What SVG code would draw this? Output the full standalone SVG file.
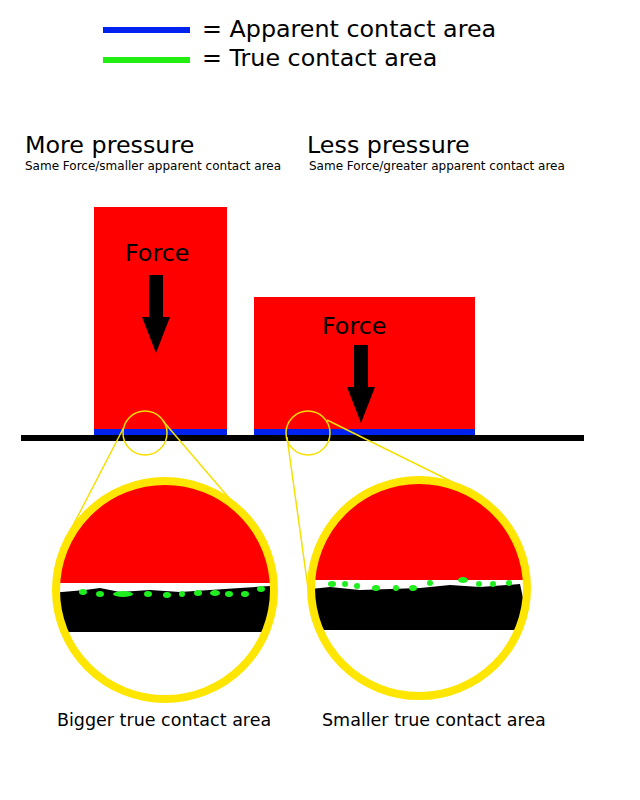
<svg xmlns="http://www.w3.org/2000/svg" width="640" height="800" viewBox="0 0 640 800">
<style>
text{font-family:Verdana,"DejaVu Sans",sans-serif;fill:#000}
.big{font-size:23.8px}.sm{font-size:12px}.lab{font-size:17.5px}
.zl{stroke:#f5e000;stroke-width:1.5;fill:none}
.ring{fill:none;stroke:#ffe600;stroke-width:8}
.g{fill:#1fef1f}
</style>
<defs>
<clipPath id="cl"><circle cx="165" cy="590" r="106"/></clipPath>
<clipPath id="cr"><circle cx="419" cy="588" r="106"/></clipPath>
</defs>
<g id="legend">
<line x1="103" y1="30" x2="190" y2="30" stroke="#0022ee" stroke-width="6"/>
<text x="202" y="37" class="big">= Apparent contact area</text>
<line x1="103" y1="60" x2="190" y2="60" stroke="#22ee11" stroke-width="6"/>
<text x="202" y="66" class="big">= True contact area</text>
</g>
<g id="titles">
<text x="25" y="153" class="big">More pressure</text>
<text x="25" y="170" class="sm">Same Force/smaller apparent contact area</text>
<text x="307" y="153" class="big">Less pressure</text>
<text x="309" y="170" class="sm">Same Force/greater apparent contact area</text>
</g>
<g id="block-left">
<rect x="94" y="207" width="133" height="224" fill="#ff0000"/>
<rect x="94" y="429" width="133" height="6" fill="#0022ee"/>
<text x="125" y="261" class="big">Force</text>
<polygon points="149,275 163,275 163,317 170,317 156,353 142,317 149,317" fill="#000"/>
</g>
<g id="block-right">
<rect x="254" y="297" width="221" height="134" fill="#ff0000"/>
<rect x="254" y="429" width="221" height="6" fill="#0022ee"/>
<text x="322" y="334" class="big">Force</text>
<polygon points="354,345 368,345 368,387 375,387 361,423 347,387 354,387" fill="#000"/>
</g>
<g id="ground"><rect x="21" y="435" width="563" height="6" fill="#000"/></g>
<g id="connectors">
<circle cx="145" cy="433" r="22" class="zl"/>
<circle cx="308" cy="433" r="22" class="zl"/>
<line x1="124" y1="427" x2="67" y2="537" class="zl"/>
<line x1="163" y1="421" x2="235" y2="505" class="zl"/>
<line x1="287" y1="437" x2="308" y2="588" class="zl"/>
<line x1="327" y1="420" x2="483" y2="497" class="zl"/>
</g>
<g id="zoom-left">
<g clip-path="url(#cl)">
<rect x="50" y="470" width="230" height="113" fill="#ff0000"/>
<path d="M50,593 L85,590 100,588 120,592 150,590 180,592 210,590 240,588 270,586 L270,632 L50,632 Z" fill="#000"/>
<ellipse class="g" cx="83" cy="592" rx="4" ry="3"/><ellipse class="g" cx="100" cy="594" rx="4" ry="3"/>
<ellipse class="g" cx="123" cy="594" rx="10" ry="3"/><ellipse class="g" cx="148" cy="594" rx="4" ry="3"/>
<ellipse class="g" cx="167" cy="595" rx="4" ry="3"/><ellipse class="g" cx="182" cy="594" rx="3" ry="3"/>
<ellipse class="g" cx="198" cy="593" rx="4" ry="3"/><ellipse class="g" cx="215" cy="593" rx="5" ry="3"/>
<ellipse class="g" cx="229" cy="594" rx="4" ry="3"/><ellipse class="g" cx="245" cy="594" rx="4" ry="3"/>
<ellipse class="g" cx="261" cy="589" rx="4" ry="3"/>
</g>
<circle cx="165" cy="590" r="109" class="ring"/>
<text x="57" y="726" class="lab">Bigger true contact area</text>
</g>
<g id="zoom-right">
<g clip-path="url(#cr)">
<rect x="300" y="470" width="240" height="110" fill="#ff0000"/>
<path d="M300,590 L330,587 360,590 390,589 420,588 450,585 480,587 520,584 L530,630 L300,630 Z" fill="#000"/>
<ellipse class="g" cx="332" cy="584" rx="4" ry="3"/><ellipse class="g" cx="345" cy="584" rx="3" ry="3"/>
<ellipse class="g" cx="357" cy="586" rx="3" ry="3"/><ellipse class="g" cx="376" cy="588" rx="4" ry="3"/>
<ellipse class="g" cx="396" cy="588" rx="3" ry="3"/><ellipse class="g" cx="413" cy="588" rx="4" ry="3"/>
<ellipse class="g" cx="430" cy="583" rx="3" ry="3"/><ellipse class="g" cx="463" cy="580" rx="5" ry="3"/>
<ellipse class="g" cx="479" cy="584" rx="3" ry="3"/><ellipse class="g" cx="493" cy="584" rx="3" ry="3"/>
<ellipse class="g" cx="509" cy="583" rx="3" ry="3"/>
</g>
<circle cx="419" cy="588" r="108" class="ring"/>
<text x="322" y="726" class="lab">Smaller true contact area</text>
</g>
</svg>
